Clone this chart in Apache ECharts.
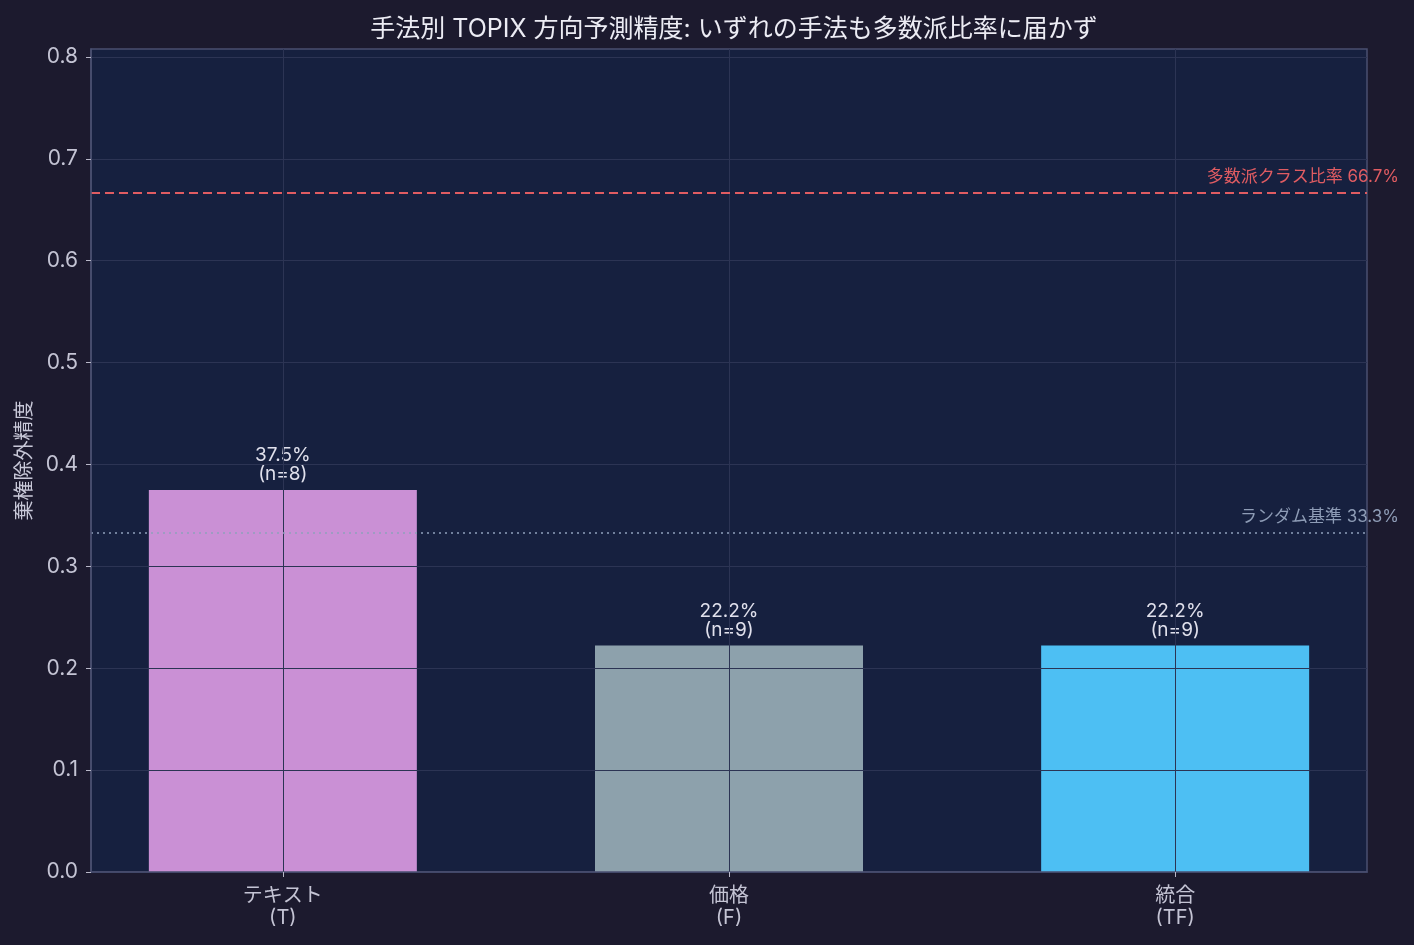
<!DOCTYPE html>
<html>
<head>
<meta charset="utf-8">
<title>手法別 TOPIX 方向予測精度</title>
<script src="https://cdn.jsdelivr.net/npm/echarts@6/dist/echarts.min.js"></script>
<style>
  html, body { margin: 0; padding: 0; background: #1c1a2e; }
  #chart { width: 1414px; height: 945px; }
</style>
</head>
<body>
<div id="chart"></div>
<script>
// data
const methods = ['テキスト\n(T)', '価格\n(F)', '統合\n(TF)'];
const positions = [0, 1, 2];
const accuracy = [0.375, 0.2222, 0.2222];
const counts = [8, 9, 9];
const yTicks = [0, 0.1, 0.2, 0.3, 0.4, 0.5, 0.6, 0.7, 0.8];
const majorityRate = 0.667;
const randomRate = 0.333;

const barColors = ['#ce93d8', '#90a4ae', '#4fc3f7'];
const font = 'Inter, "Noto Sans CJK JP", sans-serif';
const gridColor = '#2c3454';

const chart = echarts.init(document.getElementById('chart'));

const option = {
  backgroundColor: '#1c1a2e',
  textStyle: { fontFamily: font },
  title: {
    text: '手法別 TOPIX 方向予測精度: いずれの手法も多数派比率に届かず',
    left: 729,
    textAlign: 'center',
    top: 12,
    textStyle: { color: '#ececf4', fontSize: 25, fontWeight: 'normal', fontFamily: font }
  },
  grid: {
    left: 91, right: 47, top: 49, bottom: 73,
    show: true,
    backgroundColor: '#16203f',
    borderColor: '#4a4f70',
    borderWidth: 1.5
  },
  xAxis: {
    type: 'value',
    min: -0.43,
    max: 2.43,
    z: 5,
    axisLine: { show: true, onZero: false, lineStyle: { color: '#4a4f70', width: 1.5 } },
    axisTick: { show: true, customValues: positions, length: 5, lineStyle: { color: '#b8b8c8' } },
    axisLabel: {
      customValues: positions,
      formatter: v => methods[Math.round(v)] || '',
      color: '#c4c4d4',
      fontSize: 20,
      lineHeight: 22,
      margin: 13,
      fontFamily: font
    },
    splitLine: { show: true, lineStyle: { color: gridColor, width: 1 } }
  },
  yAxis: {
    type: 'value',
    min: 0,
    max: 0.8078,
    z: 5,
    name: '棄権除外精度',
    nameLocation: 'middle',
    nameGap: 54,
    nameRotate: 90,
    nameTextStyle: { color: '#c8c8d8', fontSize: 20, fontFamily: font },
    axisLine: { show: true, onZero: false, lineStyle: { color: '#4a4f70', width: 1.5 } },
    axisTick: { show: true, customValues: yTicks, length: 5, lineStyle: { color: '#b8b8c8' } },
    axisLabel: {
      customValues: yTicks,
      formatter: v => v.toFixed(1),
      color: '#c4c4d4',
      fontSize: 21,
      margin: 13,
      fontFamily: font
    },
    splitLine: { show: true, lineStyle: { color: gridColor, width: 1 } }
  },
  series: [
    {
      type: 'bar',
      barWidth: 268,
      z: 2,
      data: positions.map((p, i) => ({
        value: [p, accuracy[i]],
        itemStyle: { color: barColors[i], opacity: 0.98 }
      })),
      label: {
        show: true,
        position: 'top',
        distance: 6,
        color: '#e4e4f0',
        fontSize: 19,
        lineHeight: 19,
        fontFamily: font,
        formatter: p => (accuracy[p.dataIndex] * 100).toFixed(1) + '%\n(n=' + counts[p.dataIndex] + ')'
      },
      markLine: {
        silent: true,
        symbol: 'none',
        animation: false,
        precision: 4,
        data: [
          {
            yAxis: majorityRate,
            lineStyle: { color: '#e05c62', type: [9, 5], width: 2 },
            label: {
              show: true,
              position: 'insideEndTop',
              formatter: '多数派クラス比率 66.7%',
              color: '#e05c62',
              fontSize: 17,
              fontFamily: font,
              offset: [37, -2]
            }
          },
          {
            yAxis: randomRate,
            lineStyle: { color: '#90a0bc', type: [2, 4], width: 1.5 },
            label: {
              show: true,
              position: 'insideEndTop',
              formatter: 'ランダム基準 33.3%',
              color: '#8e9cb6',
              fontSize: 17,
              fontFamily: font,
              offset: [37, -2]
            }
          }
        ]
      }
    }
  ]
};

chart.setOption(option);
</script>
</body>
</html>
